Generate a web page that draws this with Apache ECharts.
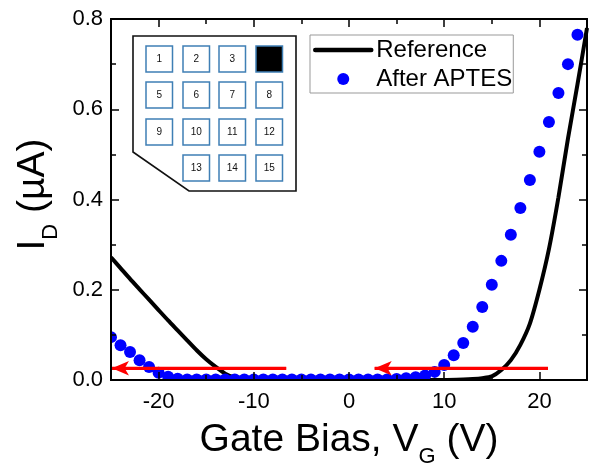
<!DOCTYPE html>
<html>
<head>
<meta charset="utf-8">
<script src="https://cdn.jsdelivr.net/npm/echarts@6/dist/echarts.min.js"></script>
<style>html,body{margin:0;padding:0;background:#fff}#c{width:595px;height:471px}</style>
</head>
<body>
<div id="c"></div>
<script>
var xTickLabels = [-20, -10, 0, 10, 20];
var xMinorTicks = [-25, -15, -5, 5, 15, 25];
var yTickLabels = [0.0, 0.2, 0.4, 0.6, 0.8];
var referenceX = [-25, -24, -23, -22, -21, -20, -19, -18, -17, -16, -15, -14, -13, -12, -11, -10, 0, 10, 12, 13, 14, 15, 16, 17, 18, 19, 20, 21, 22, 23, 24, 25];
var referenceY = [0.272, 0.248, 0.224, 0.201, 0.178, 0.155, 0.132, 0.110, 0.088, 0.066, 0.046, 0.029, 0.014, 0.005, 0.001, 0, 0, 0, 0.001, 0.002, 0.004, 0.008, 0.022, 0.044, 0.078, 0.125, 0.200, 0.290, 0.405, 0.535, 0.655, 0.780];
var aptesX = [-25, -24, -23, -22, -21, -20, -19, -18, -17, -16, -15, -14, -13, -12, -11, -10, -9, -8, -7, -6, -5, -4, -3, -2, -1, 0, 1, 2, 3, 4, 5, 6, 7, 8, 9, 10, 11, 12, 13, 14, 15, 16, 17, 18, 19, 20, 21, 22, 23, 24];
var aptesY = [0.095, 0.077, 0.062, 0.044, 0.029, 0.016, 0.007, 0.003, 0.001, 0.001, 0.001, 0.001, 0.001, 0.001, 0.001, 0.001, 0.001, 0.001, 0.001, 0.001, 0.001, 0.001, 0.001, 0.001, 0.001, 0.001, 0.001, 0.001, 0.001, 0.001, 0.002, 0.004, 0.006, 0.010, 0.018, 0.033, 0.055, 0.082, 0.118, 0.162, 0.211, 0.264, 0.322, 0.381, 0.443, 0.506, 0.572, 0.636, 0.700, 0.765];
var arrowLeftX = [-6.6, -24.9];
var arrowRightX = [20.9, 2.7];
var arrowY = [0.026, 0.026];
var insetRows = [["1", "2", "3", ""], ["5", "6", "7", "8"], ["9", "10", "11", "12"], ["", "13", "14", "15"]];
var filledCell = [0, 3];

function zip(a, b) { return a.map(function (v, i) { return [v, b[i]]; }); }

var font = '"Liberation Sans", Arial, sans-serif';
var cellX = [146, 183, 219, 256], cellY = [46, 82, 119, 155];
var graphics = [
  { type: 'rect', z: 4.5, silent: true, shape: { x: 96, y: 15, width: 15, height: 378 }, style: { fill: '#fff' } },
  { type: 'rect', z: 4.5, silent: true, shape: { x: 96, y: 380, width: 499, height: 12 }, style: { fill: '#fff' } },
  { type: 'polygon', z: 50,
    shape: { points: [[133, 36], [296, 36], [296, 191], [189, 191], [133, 152]] },
    style: { fill: '#fff', stroke: '#111', lineWidth: 1.6 } }
];
insetRows.forEach(function (row, r) {
  row.forEach(function (t, c) {
    var isFilled = r === filledCell[0] && c === filledCell[1];
    if (t === '' && !isFilled) return;
    graphics.push({
      type: 'rect', z: 51,
      shape: { x: cellX[c], y: cellY[r], width: 26.5, height: 26 },
      style: { fill: isFilled ? '#000' : '#fff', stroke: '#3f7fb5', lineWidth: 1.5 }
    });
    if (t) graphics.push({
      type: 'text', z: 52, x: cellX[c] + 13.3, y: cellY[r] + 13,
      style: { text: t, fill: '#111', font: '10px ' + font, align: 'center', verticalAlign: 'middle' }
    });
  });
});

var line = { show: true, onZero: false, lineStyle: { color: '#000', width: 2 } };
var tickStyle = { color: '#000', width: 1.5 };
function xAxisAt(pos, values, len, extra) {
  return Object.assign({
    type: 'value', min: -25, max: 25, position: pos, z: 6,
    axisLine: line,
    axisTick: { show: true, inside: true, length: len, customValues: values, lineStyle: tickStyle },
    axisLabel: { show: false },
    splitLine: { show: false }
  }, extra || {});
}
var richText = {
  a: { fontSize: 39, color: '#000', fontFamily: font },
  s: { fontSize: 22, color: '#000', fontFamily: font, padding: [34, 0, 0, 0] }
};
var chart = echarts.init(document.getElementById('c'));
chart.setOption({
  animation: false,
  backgroundColor: '#fff',
  textStyle: { fontFamily: font },
  grid: { left: 111, right: 8, top: 19, bottom: 91, containLabel: false, outerBoundsMode: 'none' },
  legend: {
    left: 310, top: 35, orient: 'vertical',
    data: [
      { name: 'Reference', lineStyle: { width: 4.5, color: '#000', cap: 'round' }, itemStyle: { opacity: 0, color: 'transparent', borderWidth: 0 } },
      { name: 'After APTES', icon: 'circle' }
    ],
    itemWidth: 56, itemHeight: 12, itemGap: 5,
    padding: [3, 1, 2, 3],
    borderColor: '#999', borderWidth: 1, backgroundColor: '#fff',
    textStyle: { fontSize: 24, color: '#000', fontFamily: font },
    z: 40
  },
  xAxis: [
    xAxisAt('bottom', xTickLabels, 8, {
      axisLabel: {
        show: true, fontSize: 22, color: '#000', margin: 11, fontFamily: font,
        customValues: xTickLabels,
        formatter: function (v) { return String(v); }
      },
      name: '{a|Gate Bias, V}{s|G}{a| (V)}',
      nameLocation: 'middle', nameGap: 32,
      nameTextStyle: { rich: richText }
    }),
    xAxisAt('bottom', xMinorTicks, 5),
    xAxisAt('top', xTickLabels, 8),
    xAxisAt('top', xMinorTicks, 5)
  ],
  yAxis: [
    {
      type: 'value', min: 0, max: 0.8, interval: 0.2, position: 'left', z: 6,
      axisLine: line,
      axisTick: { show: true, inside: true, length: 8, lineStyle: tickStyle },
      minorTick: { show: true, splitNumber: 2, length: 5, lineStyle: tickStyle },
      splitLine: { show: false },
      axisLabel: {
        fontSize: 22, color: '#000', margin: 8, fontFamily: font,
        formatter: function (v) { return yTickLabels[Math.round(v / 0.2)].toFixed(1); }
      },
      name: '{a|I}{s|D}{a| (µA)}',
      nameLocation: 'middle', nameGap: 49,
      nameTextStyle: { rich: richText, padding: [0, 0, 0, 10] }
    },
    {
      type: 'value', min: 0, max: 0.8, interval: 0.2, position: 'right', z: 6,
      axisLine: line,
      axisTick: { show: true, inside: true, length: 8, lineStyle: tickStyle },
      minorTick: { show: true, splitNumber: 2, length: 5, lineStyle: tickStyle },
      splitLine: { show: false },
      axisLabel: { show: false }
    }
  ],
  graphic: graphics,
  series: [
    { name: 'Reference', type: 'line', data: zip(referenceX, referenceY), symbol: 'none', smooth: 0.25,
      lineStyle: { color: '#000', width: 4 }, itemStyle: { color: '#000' }, z: 3 },
    { name: 'After APTES', type: 'scatter', data: zip(aptesX, aptesY), symbol: 'circle', symbolSize: 12,
      itemStyle: { color: '#0000ff', opacity: 1 }, z: 4 },
    { type: 'line', data: zip(arrowLeftX, arrowY), symbol: 'none', silent: true,
      lineStyle: { color: '#ff0000', width: 3 }, z: 5,
      markLine: { silent: true, symbol: ['none', 'arrow'], symbolSize: [11, 17], animation: false, label: { show: false },
        lineStyle: { color: '#ff0000', width: 3, type: 'solid' },
        data: [[{ coord: [arrowLeftX[0], arrowY[0]] }, { coord: [arrowLeftX[1], arrowY[1]] }]] } },
    { type: 'line', data: zip(arrowRightX, arrowY), symbol: 'none', silent: true,
      lineStyle: { color: '#ff0000', width: 3 }, z: 5,
      markLine: { silent: true, symbol: ['none', 'arrow'], symbolSize: [11, 17], animation: false, label: { show: false },
        lineStyle: { color: '#ff0000', width: 3, type: 'solid' },
        data: [[{ coord: [arrowRightX[0], arrowY[0]] }, { coord: [arrowRightX[1], arrowY[1]] }]] } }
  ]
});
</script>
</body>
</html>
